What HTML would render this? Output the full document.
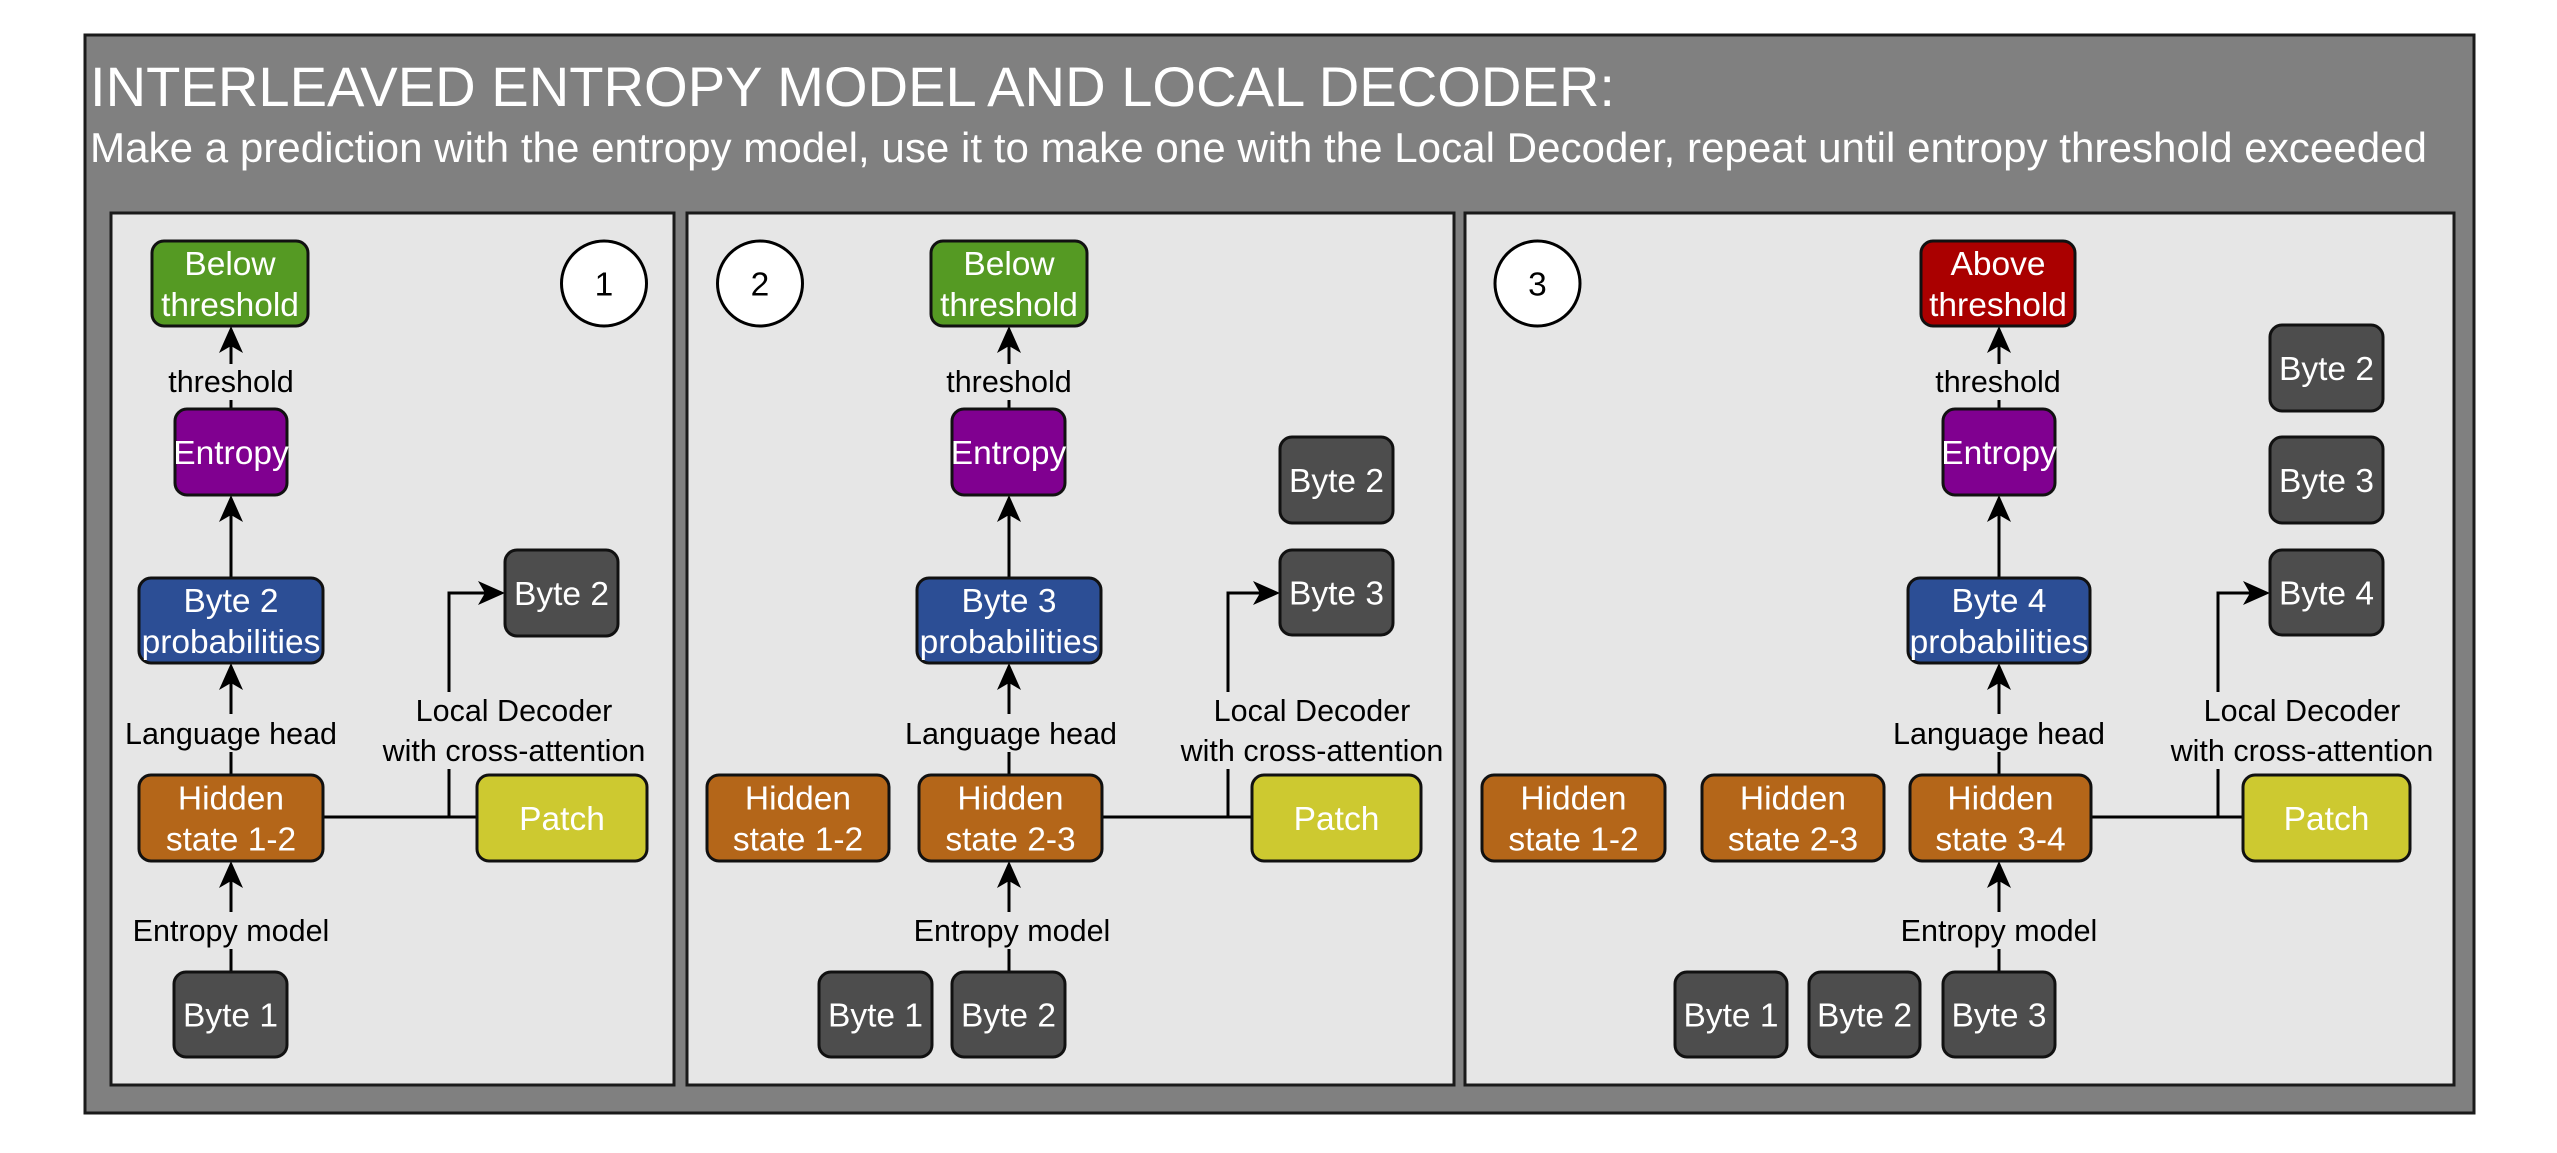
<!DOCTYPE html>
<html><head><meta charset="utf-8"><style>
html,body{margin:0;padding:0;background:#fff;}
svg{display:block;}
text{font-family:"Liberation Sans",Helvetica,Arial,sans-serif;}
.bx{stroke:#111;stroke-width:3;}
.bt{fill:#fff;font-size:33.5px;text-anchor:middle;}
.lb{fill:#000;font-size:30.5px;text-anchor:middle;}
.ln{stroke:#000;stroke-width:3;fill:none;}
.ah{fill:#000;}
.lbg{fill:#e6e6e6;}
</style></head><body>
<svg width="2557" height="1153" viewBox="0 0 2557 1153" xmlns="http://www.w3.org/2000/svg">
<rect x="0" y="0" width="2557" height="1153" fill="#fff"/>
<rect x="85" y="35" width="2389" height="1078" fill="#808080" stroke="#1a1a1a" stroke-width="3"/>
<text x="90" y="106" fill="#fff" style="font-size:56px" textLength="1525" lengthAdjust="spacingAndGlyphs">INTERLEAVED ENTROPY MODEL AND LOCAL DECODER:</text>
<text x="90" y="162" fill="#fff" style="font-size:42px" textLength="2337" lengthAdjust="spacingAndGlyphs">Make a prediction with the entropy model, use it to make one with the Local Decoder, repeat until entropy threshold exceeded</text>

<rect x="111" y="213" width="563" height="872" fill="#e6e6e6" stroke="#1a1a1a" stroke-width="3"/>
<rect x="687" y="213" width="767" height="872" fill="#e6e6e6" stroke="#1a1a1a" stroke-width="3"/>
<rect x="1465" y="213" width="989" height="872" fill="#e6e6e6" stroke="#1a1a1a" stroke-width="3"/>

<!-- ===== PANEL 1 ===== -->
<g>
<line class="ln" x1="231" y1="972" x2="231" y2="881"/>
<polygon class="ah" points="231,861 243,888 231,881 219,888"/>
<line class="ln" x1="231" y1="775" x2="231" y2="683"/>
<polygon class="ah" points="231,663 243,690 231,683 219,690"/>
<line class="ln" x1="231" y1="578" x2="231" y2="515"/>
<polygon class="ah" points="231,495 243,522 231,515 219,522"/>
<line class="ln" x1="231" y1="409" x2="231" y2="346"/>
<polygon class="ah" points="231,326 243,353 231,346 219,353"/>
<line class="ln" x1="323" y1="817" x2="477" y2="817"/>
<polyline class="ln" points="449,817 449,593 485,593"/>
<polygon class="ah" points="505,593 478,581 485,593 478,605"/>

<rect class="lbg" x="160" y="364" width="142" height="36"/>
<text class="lb" x="231" y="392">threshold</text>
<rect class="lbg" x="122" y="714" width="220" height="38"/>
<text class="lb" x="231" y="744">Language head</text>
<rect class="lbg" x="128" y="912" width="206" height="37"/>
<text class="lb" x="231" y="941">Entropy model</text>
<rect class="lbg" x="378" y="692" width="272" height="77"/>
<text class="lb" x="514" y="721">Local Decoder</text>
<text class="lb" x="514" y="761">with cross-attention</text>

<rect class="bx" x="152" y="241" width="156" height="85" rx="12" fill="#559a23"/>
<text class="bt" x="230" y="275">Below</text><text class="bt" x="230" y="316">threshold</text>
<ellipse cx="604" cy="283.5" rx="42.5" ry="42.5" fill="#fff" stroke="#000" stroke-width="3"/>
<text x="604" y="295.5" style="font-size:33.5px;text-anchor:middle" fill="#000">1</text>
<rect class="bx" x="175" y="409" width="112" height="86" rx="12" fill="#800090"/>
<text class="bt" x="231" y="464">Entropy</text>
<rect class="bx" x="139" y="578" width="184" height="85" rx="12" fill="#2c4e95"/>
<text class="bt" x="231" y="612">Byte 2</text><text class="bt" x="231" y="653">probabilities</text>
<rect class="bx" x="505" y="550" width="113" height="86" rx="12" fill="#4d4d4d"/>
<text class="bt" x="561.5" y="605">Byte 2</text>
<rect class="bx" x="139" y="775" width="184" height="86" rx="12" fill="#b46619"/>
<text class="bt" x="231" y="809.5">Hidden</text><text class="bt" x="231" y="850.5">state 1-2</text>
<rect class="bx" x="477" y="775" width="170" height="86" rx="12" fill="#cdc930"/>
<text class="bt" x="562" y="830">Patch</text>
<rect class="bx" x="174" y="972" width="113" height="85" rx="12" fill="#4d4d4d"/>
<text class="bt" x="230.5" y="1026.5">Byte 1</text>
</g>

<!-- ===== PANEL 2 ===== -->
<g>
<line class="ln" x1="1009" y1="972" x2="1009" y2="881"/>
<polygon class="ah" points="1009,861 1021,888 1009,881 997,888"/>
<line class="ln" x1="1009" y1="775" x2="1009" y2="683"/>
<polygon class="ah" points="1009,663 1021,690 1009,683 997,690"/>
<line class="ln" x1="1009" y1="578" x2="1009" y2="515"/>
<polygon class="ah" points="1009,495 1021,522 1009,515 997,522"/>
<line class="ln" x1="1009" y1="409" x2="1009" y2="346"/>
<polygon class="ah" points="1009,326 1021,353 1009,346 997,353"/>
<line class="ln" x1="1102" y1="817" x2="1252" y2="817"/>
<polyline class="ln" points="1228,817 1228,593 1260,593"/>
<polygon class="ah" points="1280,593 1253,581 1260,593 1253,605"/>

<rect class="lbg" x="938" y="364" width="142" height="36"/>
<text class="lb" x="1009" y="392">threshold</text>
<rect class="lbg" x="900" y="714" width="220" height="38"/>
<text class="lb" x="1011" y="744">Language head</text>
<rect class="lbg" x="906" y="912" width="206" height="37"/>
<text class="lb" x="1012" y="941">Entropy model</text>
<rect class="lbg" x="1176" y="692" width="272" height="77"/>
<text class="lb" x="1312" y="721">Local Decoder</text>
<text class="lb" x="1312" y="761">with cross-attention</text>

<ellipse cx="760" cy="283.5" rx="42.5" ry="42.5" fill="#fff" stroke="#000" stroke-width="3"/>
<text x="760" y="295.5" style="font-size:33.5px;text-anchor:middle" fill="#000">2</text>
<rect class="bx" x="931" y="241" width="156" height="85" rx="12" fill="#559a23"/>
<text class="bt" x="1009" y="275">Below</text><text class="bt" x="1009" y="316">threshold</text>
<rect class="bx" x="952" y="409" width="113" height="86" rx="12" fill="#800090"/>
<text class="bt" x="1008.5" y="464">Entropy</text>
<rect class="bx" x="917" y="578" width="184" height="85" rx="12" fill="#2c4e95"/>
<text class="bt" x="1009" y="612">Byte 3</text><text class="bt" x="1009" y="653">probabilities</text>
<rect class="bx" x="1280" y="437" width="113" height="86" rx="12" fill="#4d4d4d"/>
<text class="bt" x="1336.5" y="492">Byte 2</text>
<rect class="bx" x="1280" y="550" width="113" height="85" rx="12" fill="#4d4d4d"/>
<text class="bt" x="1336.5" y="604.5">Byte 3</text>
<rect class="bx" x="707" y="775" width="182" height="86" rx="12" fill="#b46619"/>
<text class="bt" x="798" y="809.5">Hidden</text><text class="bt" x="798" y="850.5">state 1-2</text>
<rect class="bx" x="919" y="775" width="183" height="86" rx="12" fill="#b46619"/>
<text class="bt" x="1010.5" y="809.5">Hidden</text><text class="bt" x="1010.5" y="850.5">state 2-3</text>
<rect class="bx" x="1252" y="775" width="169" height="86" rx="12" fill="#cdc930"/>
<text class="bt" x="1336.5" y="830">Patch</text>
<rect class="bx" x="819" y="972" width="113" height="85" rx="12" fill="#4d4d4d"/>
<text class="bt" x="875.5" y="1026.5">Byte 1</text>
<rect class="bx" x="952" y="972" width="113" height="85" rx="12" fill="#4d4d4d"/>
<text class="bt" x="1008.5" y="1026.5">Byte 2</text>
</g>

<!-- ===== PANEL 3 ===== -->
<g>
<line class="ln" x1="1999" y1="972" x2="1999" y2="881"/>
<polygon class="ah" points="1999,861 2011,888 1999,881 1987,888"/>
<line class="ln" x1="1999" y1="775" x2="1999" y2="683"/>
<polygon class="ah" points="1999,663 2011,690 1999,683 1987,690"/>
<line class="ln" x1="1999" y1="578" x2="1999" y2="515"/>
<polygon class="ah" points="1999,495 2011,522 1999,515 1987,522"/>
<line class="ln" x1="1999" y1="409" x2="1999" y2="346"/>
<polygon class="ah" points="1999,326 2011,353 1999,346 1987,353"/>
<line class="ln" x1="2091" y1="817" x2="2243" y2="817"/>
<polyline class="ln" points="2218,817 2218,593 2250,593"/>
<polygon class="ah" points="2270,593 2243,581 2250,593 2243,605"/>

<rect class="lbg" x="1928" y="364" width="142" height="36"/>
<text class="lb" x="1998" y="392">threshold</text>
<rect class="lbg" x="1889" y="714" width="220" height="38"/>
<text class="lb" x="1999" y="744">Language head</text>
<rect class="lbg" x="1896" y="912" width="206" height="37"/>
<text class="lb" x="1999" y="941">Entropy model</text>
<rect class="lbg" x="2166" y="692" width="272" height="77"/>
<text class="lb" x="2302" y="721">Local Decoder</text>
<text class="lb" x="2302" y="761">with cross-attention</text>

<ellipse cx="1537.5" cy="283.5" rx="42.5" ry="42.5" fill="#fff" stroke="#000" stroke-width="3"/>
<text x="1537.5" y="295.5" style="font-size:33.5px;text-anchor:middle" fill="#000">3</text>
<rect class="bx" x="1921" y="241" width="154" height="85" rx="12" fill="#aa0000"/>
<text class="bt" x="1998" y="275">Above</text><text class="bt" x="1998" y="316">threshold</text>
<rect class="bx" x="1943" y="409" width="112" height="86" rx="12" fill="#800090"/>
<text class="bt" x="1999" y="464">Entropy</text>
<rect class="bx" x="1908" y="578" width="182" height="85" rx="12" fill="#2c4e95"/>
<text class="bt" x="1999" y="612">Byte 4</text><text class="bt" x="1999" y="653">probabilities</text>
<rect class="bx" x="2270" y="325" width="113" height="86" rx="12" fill="#4d4d4d"/>
<text class="bt" x="2326.5" y="380">Byte 2</text>
<rect class="bx" x="2270" y="437" width="113" height="86" rx="12" fill="#4d4d4d"/>
<text class="bt" x="2326.5" y="492">Byte 3</text>
<rect class="bx" x="2270" y="550" width="113" height="85" rx="12" fill="#4d4d4d"/>
<text class="bt" x="2326.5" y="604.5">Byte 4</text>
<rect class="bx" x="1482" y="775" width="183" height="86" rx="12" fill="#b46619"/>
<text class="bt" x="1573.5" y="809.5">Hidden</text><text class="bt" x="1573.5" y="850.5">state 1-2</text>
<rect class="bx" x="1702" y="775" width="182" height="86" rx="12" fill="#b46619"/>
<text class="bt" x="1793" y="809.5">Hidden</text><text class="bt" x="1793" y="850.5">state 2-3</text>
<rect class="bx" x="1910" y="775" width="181" height="86" rx="12" fill="#b46619"/>
<text class="bt" x="2000.5" y="809.5">Hidden</text><text class="bt" x="2000.5" y="850.5">state 3-4</text>
<rect class="bx" x="2243" y="775" width="167" height="86" rx="12" fill="#cdc930"/>
<text class="bt" x="2326.5" y="830">Patch</text>
<rect class="bx" x="1675" y="972" width="112" height="85" rx="12" fill="#4d4d4d"/>
<text class="bt" x="1731" y="1026.5">Byte 1</text>
<rect class="bx" x="1809" y="972" width="111" height="85" rx="12" fill="#4d4d4d"/>
<text class="bt" x="1864.5" y="1026.5">Byte 2</text>
<rect class="bx" x="1943" y="972" width="112" height="85" rx="12" fill="#4d4d4d"/>
<text class="bt" x="1999" y="1026.5">Byte 3</text>
</g>
</svg>
</body></html>
